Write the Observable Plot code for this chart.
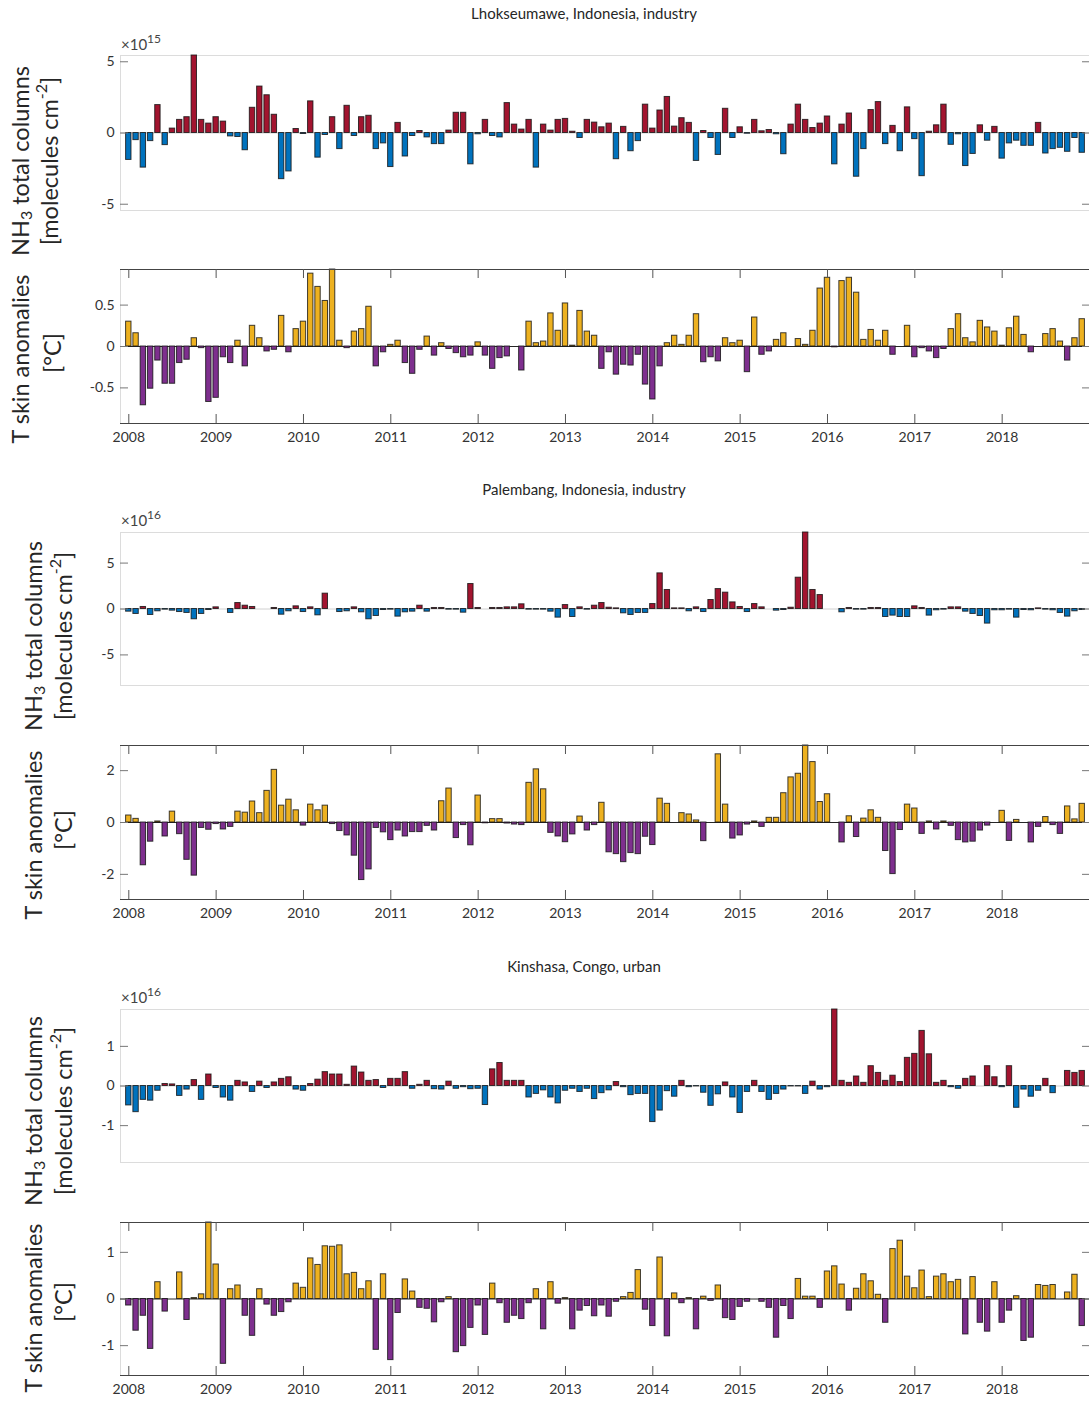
<!DOCTYPE html>
<html><head><meta charset="utf-8">
<script src="https://cdn.jsdelivr.net/npm/d3@7"></script>
<script src="https://cdn.jsdelivr.net/npm/@observablehq/plot@0.6"></script>
<style>
body{margin:0;background:#fff;}
#root{position:relative;width:1089px;height:1401px;background:#fff;overflow:hidden;font-family:Lato,"Open Sans",sans-serif;color:#333}
.panel{position:absolute;left:0}
#overlay{position:absolute;left:0;top:0}
</style></head><body><div id="root"></div>
<script>
// ---- data (monthly anomalies, Jan 2008 .. Dec 2018) ----
const firstYear = 2008;
const yearTicks = [2008, 2009, 2010, 2011, 2012, 2013, 2014, 2015, 2016, 2017, 2018];
const titles = ["Lhokseumawe, Indonesia, industry", "Palembang, Indonesia, industry", "Kinshasa, Congo, urban"];
const nh3Exponents = ["15", "16", "16"];

const lhokNH3 = [ // x1e15
 -1.89,-0.50,-2.43,-0.57,1.96,-0.85,0.31,0.92,1.11,5.44,0.92,0.66,
 1.11,0.80,-0.24,-0.28,-1.21,1.77,3.26,2.65,1.28,-3.24,-2.70,0.28,
 -0.07,2.22,-1.73,-0.14,1.11,-1.13,1.91,-0.21,1.11,1.21,-1.13,-0.73,
 -2.39,0.71,-1.65,-0.21,0.14,-0.31,-0.78,-0.78,0.17,1.42,1.42,-2.20,
 -0.09,0.92,-0.21,-0.31,2.10,0.59,0.24,0.92,-2.43,0.59,0.17,0.92,
 0.99,0.09,-0.35,0.92,0.73,0.40,0.66,-1.84,0.43,-1.28,-0.57,1.99,
 0.31,1.58,2.53,0.45,1.04,0.71,-1.96,0.14,-0.35,-1.54,1.70,-0.35,
 0.40,-0.05,0.92,0.12,0.21,-0.09,-1.49,0.59,1.99,0.92,0.35,0.66,
 1.16,-2.20,0.59,1.37,-3.07,-1.13,1.61,2.17,-0.78,0.50,-1.28,1.80,
 -0.43,-3.03,0.09,0.54,1.99,-0.83,-0.09,-2.32,-1.47,0.54,-0.54,0.43,
 -1.80,-0.73,-0.54,-0.90,-0.90,0.71,-1.44,-1.13,-1.04,-1.32,-0.35,-1.39];
const lhokT = [
 0.30,0.16,-0.71,-0.51,-0.17,-0.45,-0.45,-0.20,-0.16,0.10,-0.02,-0.67,
 -0.62,-0.13,-0.20,0.07,-0.24,0.25,0.10,-0.06,-0.04,0.37,-0.07,0.21,
 0.30,0.88,0.72,0.55,0.93,0.07,-0.02,0.18,0.21,0.48,-0.24,-0.07,
 0.02,0.07,-0.20,-0.33,-0.04,0.12,-0.11,0.04,-0.03,-0.08,-0.13,-0.11,
 0.05,-0.11,-0.27,-0.14,-0.12,0,-0.29,0.30,0.04,0.06,0.40,0.19,
 0.52,0.01,0.43,0.18,0.13,-0.27,-0.07,-0.34,-0.22,-0.23,-0.10,-0.46,
 -0.64,-0.24,0.04,0.13,0.02,0.13,0.39,-0.19,-0.13,-0.18,0.10,0.04,
 0.07,-0.31,0.35,-0.10,-0.06,0.08,0.16,0,0.09,0.02,0.19,0.70,
 0.83,-0.01,0.79,0.83,0.65,0.08,0.20,0.07,0.19,-0.10,0,0.25,
 -0.13,-0.02,-0.06,-0.14,-0.03,0.21,0.39,0.10,0.05,0.31,0.23,0.18,
 0.01,0.22,0.36,0.14,-0.07,0,0.15,0.21,0.06,-0.17,0.10,0.33];
const palNH3 = [ // x1e16
 -0.29,-0.54,0.22,-0.65,-0.25,-0.07,-0.18,-0.33,-0.43,-1.12,-0.54,-0.11,
 0.18,0,-0.43,0.65,0.36,0.22,0,0,0.11,-0.62,-0.25,0.29,
 -0.33,0.18,-0.69,1.67,0,-0.33,-0.25,0.18,-0.36,-1.12,-0.76,-0.11,
 -0.07,-0.83,-0.36,-0.29,0.36,-0.29,0.11,0.11,-0.07,-0.07,-0.40,2.72,
 0.11,0,0.11,0.11,0.18,0.18,0.51,-0.07,-0.07,-0.07,-0.29,-0.94,
 0.43,-0.87,0.18,-0.07,0.36,0.65,0.14,0.07,-0.47,-0.65,-0.43,-0.43,
 0.54,3.88,2.07,0.07,0.07,-0.25,0.18,-0.33,0.98,2.17,1.78,0.72,
 0.22,-0.33,0.54,0.18,0,-0.18,-0.11,0.14,3.41,8.33,2.07,1.52,
 0,0,-0.36,0.11,-0.07,-0.07,0.11,0.11,-0.87,-0.72,-0.87,-0.87,
 0.29,0.11,-0.72,-0.14,-0.07,0.18,0.18,-0.29,-0.54,-0.76,-1.59,-0.14,
 -0.14,-0.07,-0.94,-0.11,-0.14,0.07,-0.07,-0.14,-0.43,-0.83,-0.25,-0.11];
const palT = [
 0.27,0.14,-1.65,-0.74,0.04,-0.54,0.42,-0.45,-1.44,-2.05,-0.21,-0.28,
 -0.06,-0.27,-0.17,0.42,0.38,0.81,0.36,1.22,2.03,0.65,0.88,0.47,
 -0.12,0.69,0.47,0.65,-0.06,-0.33,-0.50,-1.28,-2.22,-1.81,-0.21,-0.38,
 -0.68,-0.31,-0.54,-0.37,-0.37,-0.13,-0.31,0.82,1.31,-0.60,-0.10,-0.88,
 1.04,-0.03,0.13,0.13,-0.04,-0.08,-0.10,1.53,2.05,1.28,-0.40,-0.54,
 -0.76,-0.46,0.23,-0.31,-0.10,0.76,-1.15,-1.22,-1.53,-1.18,-1.22,-0.55,
 -0.87,0.92,0.72,0,0.36,0.31,0.08,-0.72,0,2.63,0.69,-0.62,
 -0.50,-0.08,0.04,-0.17,0.18,0.18,1.13,1.74,1.88,2.97,2.33,0.79,
 1.09,0,-0.77,0.24,-0.56,0.15,0.47,0.18,-1.10,-1.99,-0.29,0.69,
 0.54,-0.44,0.04,-0.27,0.04,-0.13,-0.68,-0.77,-0.74,-0.31,-0.12,0,
 0.45,-0.71,0.10,0,-0.77,-0.17,0.21,-0.10,-0.44,0.62,0.12,0.72];
const kinNH3 = [ // x1e16
 -0.49,-0.66,-0.35,-0.37,-0.12,0.05,0.04,-0.25,-0.09,0.15,-0.35,0.29,
 -0.05,-0.29,-0.37,0.13,0.09,-0.15,0.11,-0.05,0.09,0.18,0.22,-0.09,
 -0.12,0.05,0.16,0.35,0.29,0.29,0.03,0.49,0.34,0.13,0.15,-0.05,
 0.18,0.18,0.35,-0.07,0.03,0.13,-0.08,-0.09,0.11,-0.07,-0.03,-0.08,
 -0.07,-0.48,0.42,0.58,0.13,0.13,0.13,-0.29,-0.20,-0.11,-0.29,-0.44,
 -0.12,-0.07,-0.15,-0.07,-0.33,-0.18,-0.11,0.10,-0.03,-0.23,-0.20,-0.20,
 -0.91,-0.62,-0.13,-0.27,0.13,-0.03,-0.01,-0.17,-0.50,-0.21,0.09,-0.29,
 -0.68,-0.15,0.13,-0.15,-0.35,-0.20,-0.09,-0.01,-0.01,-0.20,0.11,-0.09,
 -0.03,1.93,0.13,0.08,0.24,0.08,0.50,0.33,0.13,0.26,0.10,0.71,
 0.81,1.39,0.80,0.08,0.13,-0.03,-0.07,0.18,0.24,0,0.50,0.22,
 -0.03,0.50,-0.55,-0.09,-0.27,-0.12,0.18,-0.18,0,0.38,0.33,0.38];
const kinT = [
 -0.14,-0.68,-0.36,-1.07,0.36,-0.27,0,0.57,-0.45,0.02,0.10,1.64,
 0.74,-1.39,0.21,0.29,-0.36,-0.79,0.21,-0.12,-0.36,-0.28,-0.07,0.33,
 0.24,0.87,0.73,1.13,1.12,1.15,0.53,0.56,0.21,0.38,-1.09,0.53,
 -1.31,-0.30,0.42,0.16,-0.19,-0.21,-0.50,-0.07,0.04,-1.14,-1.01,-0.62,
 -0.14,-0.77,0.33,-0.09,-0.51,-0.36,-0.43,-0.09,0.21,-0.65,0.36,-0.10,
 0.02,-0.65,-0.25,-0.15,-0.37,-0.14,-0.38,-0.06,0.04,0.13,0.62,-0.23,
 -0.58,0.89,-0.80,0.12,-0.09,0.02,-0.65,0.05,-0.04,0.29,-0.41,-0.45,
 -0.17,-0.06,0,-0.06,-0.19,-0.83,-0.15,-0.43,0.43,0.05,0.05,-0.19,
 0.59,0.70,0.31,-0.25,0.22,0.53,0.38,0.09,-0.51,1.07,1.25,0.48,
 0.23,0.61,0.04,0.48,0.53,0.36,0.41,-0.76,0.47,-0.51,-0.70,0.36,
 -0.51,-0.25,0.06,-0.90,-0.83,0.30,0.28,0.30,0,0.14,0.52,-0.58];

const nh3Ticks = [[-5, 0, 5], [-5, 0, 5], [-1, 0, 1]];
const tTicks = [[-0.5, 0, 0.5], [-2, 0, 2], [-1, 0, 1]];

// ---- styling / layout ----
const W = 1089, ML = 120, MR = 0;
const xDomain = [2007.905, 2019.0];
const colors = {
  nh3: {pos: "#A2142F", neg: "#0072BD"},
  t: {pos: "#EDB120", neg: "#7E2F8E"}
};
const panels = [
  {vals: lhokNH3, kind: "nh3", top: 55, bottom: 210, ticks: nh3Ticks[0]},
  {vals: lhokT, kind: "t", top: 269, bottom: 423, ticks: tTicks[0]},
  {vals: palNH3, kind: "nh3", top: 532, bottom: 685, ticks: nh3Ticks[1]},
  {vals: palT, kind: "t", top: 745, bottom: 899, ticks: tTicks[1]},
  {vals: kinNH3, kind: "nh3", top: 1009, bottom: 1162, ticks: nh3Ticks[2]},
  {vals: kinT, kind: "t", top: 1222, bottom: 1375, ticks: tTicks[2]}
];

const root = document.getElementById("root");
const halfW = 0.37 / 12;

for (const p of panels) {
  const data = p.vals.map((v, i) => ({t: firstYear + i / 12, v}));
  const m = d3.max(p.vals, v => Math.abs(v));
  const yDom = [-m, m];
  const mt = 4, mb = p.kind === "t" ? 30 : 4;
  const innerH = p.bottom - p.top;
  const innerW = W - ML - MR;
  const dark = p.kind === "t";
  const c = colors[p.kind];
  const marks = [
    Plot.frame({stroke: "#dcdcdc"}),
    Plot.ruleY([0], {stroke: dark ? "#262626" : "#d0d0d0", strokeWidth: 1}),
    Plot.rect(data, {
      x1: d => d.t - halfW, x2: d => d.t + halfW, y1: 0, y2: "v",
      fill: d => d.v >= 0 ? c.pos : c.neg,
      stroke: "#111", strokeOpacity: 0.8, strokeWidth: 1
    }),
    Plot.tickY(p.ticks, {y: d => d, stroke: "#777", insetRight: innerW - 8}),
    Plot.tickY(p.ticks, {y: d => d, stroke: "#777", insetLeft: innerW - 7}),
    Plot.axisY(p.ticks, {tickSize: 0, tickPadding: 6, tickFormat: d => String(d), label: null, fontSize: 14})
  ];
  if (dark) {
    marks.push(
      Plot.ruleY(yDom, {stroke: "#444", strokeWidth: 1}),
      Plot.tickX(yearTicks, {x: d => d, stroke: "#555", insetBottom: innerH - 9}),
      Plot.tickX(yearTicks, {x: d => d, stroke: "#555", insetTop: innerH - 9}),
      Plot.axisX(yearTicks, {tickSize: 0, tickPadding: 9, tickFormat: d => String(d), label: null, fontSize: 14})
    );
  }
  const chart = Plot.plot({
    width: W, height: mt + innerH + mb,
    marginLeft: ML, marginRight: MR, marginTop: mt, marginBottom: mb,
    x: {domain: xDomain, axis: dark ? undefined : null},
    y: {domain: yDom},
    style: {fontFamily: "Lato, 'Open Sans', sans-serif", fontSize: "14px", color: "#333", background: "transparent", overflow: "visible"},
    marks
  });
  chart.classList.add("panel");
  chart.style.top = (p.top - mt) + "px";
  root.appendChild(chart);
}

// ---- text overlay: titles, axis labels, exponents ----
const blocks = [
  {titleY: 13, expY: 44, nh3X: 20, nh3Y: 161, nh3uX: 49, tX: 20, tY: 359, tuX: 52, tuY: 353},
  {titleY: 489, expY: 520, nh3X: 33, nh3Y: 636, nh3uX: 63, tX: 33, tY: 835, tuX: 63, tuY: 830},
  {titleY: 966, expY: 997, nh3X: 33, nh3Y: 1111, nh3uX: 63, tX: 33, tY: 1308, tuX: 63, tuY: 1302}
];
let s = `<svg id="overlay" width="${W}" height="1401" font-family="Lato, 'Open Sans', sans-serif" fill="#262626">`;
blocks.forEach((b, i) => {
  s += `<text x="584" y="${b.titleY}" text-anchor="middle" dominant-baseline="central" font-size="15">${titles[i]}</text>`;
  s += `<text x="121" y="${b.expY}" dominant-baseline="central" font-size="15" fill="#444">×10<tspan font-size="12" dy="-6">${nh3Exponents[i]}</tspan></text>`;
  s += `<text transform="translate(${b.nh3X},${b.nh3Y}) rotate(-90)" text-anchor="middle" dominant-baseline="central" font-size="23.5">NH<tspan font-size="16" dy="5">3</tspan><tspan dy="-5"> total columns</tspan></text>`;
  s += `<text transform="translate(${b.nh3uX},${b.nh3Y}) rotate(-90)" text-anchor="middle" dominant-baseline="central" font-size="23.5">[molecules cm<tspan font-size="16" dy="-9">-2</tspan><tspan dy="9">]</tspan></text>`;
  s += `<text transform="translate(${b.tX},${b.tY}) rotate(-90)" text-anchor="middle" dominant-baseline="central" font-size="23.5">T skin anomalies</text>`;
  s += `<text transform="translate(${b.tuX},${b.tuY}) rotate(-90)" text-anchor="middle" dominant-baseline="central" font-size="23.5">[°C]</text>`;
});
s += `</svg>`;
root.insertAdjacentHTML("beforeend", s);
</script>
</body></html>
